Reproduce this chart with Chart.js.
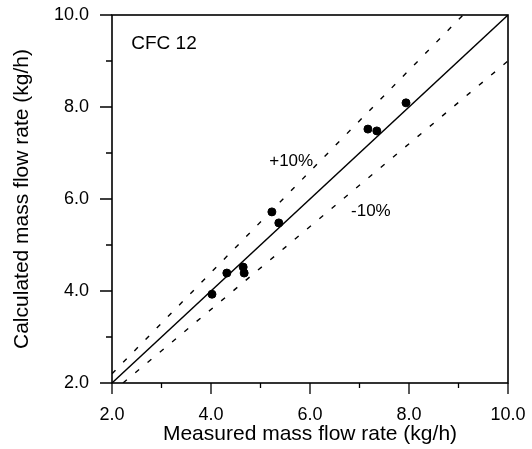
<!DOCTYPE html>
<html>
<head>
<meta charset="utf-8">
<script src="https://cdn.jsdelivr.net/npm/chart.js@4"></script>
<style>
  html, body { margin: 0; padding: 0; background: #fff; }
  #wrap { width: 532px; height: 449px; }
</style>
</head>
<body>
<div id="wrap"><canvas id="chart" width="532" height="449"></canvas></div>
<script>
// measured vs calculated mass flow rate (kg/h)
const measured   = [4.02, 4.32, 4.65, 4.67, 5.23, 5.37, 7.17, 7.35, 7.94];
const calculated = [3.93, 4.39, 4.52, 4.39, 5.72, 5.48, 7.52, 7.48, 8.09];

const lineX   = [2, 10];
const plusX   = [2, 10 / 1.1];
const minusX  = [2 / 0.9, 10];

const majorTicks = [2, 4, 6, 8, 10];
const minorTicks = [3, 5, 7, 9];

const textLabels = [
    { text: "CFC 12", x: 3.05, y: 9.37, size: 19 },
    { text: "+10%", x: 5.62, y: 6.83, size: 17 },
    { text: "-10%", x: 7.23, y: 5.74, size: 17 }
];

const FONT = "'Liberation Sans', Arial, sans-serif";

let points = measured.map((m, i) => ({ x: m, y: calculated[i] }));

const framePlugin = {
    id: "frame",
    afterDatasetsDraw(chart) {
        let ctx = chart.ctx;
        let xs = chart.scales.x, ys = chart.scales.y;
        let a = chart.chartArea;
        ctx.save();
        ctx.strokeStyle = "#000";
        ctx.lineWidth = 1.6;
        ctx.strokeRect(a.left, a.top, a.right - a.left, a.bottom - a.top);

        // tick marks, major longer than minor
        ctx.lineWidth = 1.3;
        ctx.beginPath();
        majorTicks.forEach(v => {
            let px = xs.getPixelForValue(v);
            ctx.moveTo(px, a.bottom); ctx.lineTo(px, a.bottom + 11);
            let py = ys.getPixelForValue(v);
            ctx.moveTo(a.left, py); ctx.lineTo(a.left - 12, py);
        });
        minorTicks.forEach(v => {
            let px = xs.getPixelForValue(v);
            ctx.moveTo(px, a.bottom); ctx.lineTo(px, a.bottom + 5);
            let py = ys.getPixelForValue(v);
            ctx.moveTo(a.left, py); ctx.lineTo(a.left - 6, py);
        });
        ctx.stroke();

        ctx.fillStyle = "#000";
        ctx.textAlign = "center";
        ctx.textBaseline = "middle";
        textLabels.forEach(l => {
            ctx.font = l.size + "px " + FONT;
            ctx.fillText(l.text, xs.getPixelForValue(l.x), ys.getPixelForValue(l.y));
        });
        ctx.restore();
    }
};

new Chart(document.getElementById("chart"), {
    type: "scatter",
    data: {
        datasets: [
            {
                data: points,
                backgroundColor: "#000",
                borderColor: "#000",
                pointRadius: 4
            },
            {
                type: "line",
                data: lineX.map(v => ({ x: v, y: v })),
                borderColor: "#000",
                borderWidth: 1.4,
                pointRadius: 0
            },
            {
                type: "line",
                data: plusX.map(v => ({ x: v, y: v * 1.1 })),
                borderColor: "#000",
                borderWidth: 1.4,
                borderDash: [5, 11],
                pointRadius: 0
            },
            {
                type: "line",
                data: minusX.map(v => ({ x: v, y: v * 0.9 })),
                borderColor: "#000",
                borderWidth: 1.4,
                borderDash: [5, 11],
                pointRadius: 0
            }
        ]
    },
    options: {
        responsive: false,
        animation: false,
        layout: { padding: { top: 15, right: 24, left: 0, bottom: 0 } },
        plugins: { legend: { display: false }, tooltip: { enabled: false } },
        scales: {
            x: {
                type: "linear",
                min: 2, max: 10,
                afterFit: s => { s.height = 66; s.paddingLeft = 0; s.paddingRight = 0; },
                grid: { display: true, drawOnChartArea: false, color: "rgba(0,0,0,0)", tickLength: 10 },
                border: { display: false },
                ticks: {
                    stepSize: 1,
                    padding: 11,
                    color: "#000",
                    maxRotation: 0,
                    font: { family: FONT, size: 18 },
                    callback: v => (v % 2 === 0 ? v.toFixed(1) : "")
                },
                title: {
                    display: true,
                    text: "Measured mass flow rate (kg/h)",
                    color: "#000",
                    font: { family: FONT, size: 21 },
                    padding: { top: 0, bottom: 2 }
                }
            },
            y: {
                type: "linear",
                min: 2, max: 10,
                afterFit: s => { s.width = 112; s.paddingTop = 0; s.paddingBottom = 0; },
                grid: { display: true, drawOnChartArea: false, color: "rgba(0,0,0,0)", tickLength: 12 },
                border: { display: false },
                ticks: {
                    stepSize: 1,
                    padding: 11,
                    color: "#000",
                    font: { family: FONT, size: 18 },
                    callback: v => (v % 2 === 0 ? v.toFixed(1) : "")
                },
                title: {
                    display: true,
                    text: "Calculated mass flow rate (kg/h)",
                    color: "#000",
                    font: { family: FONT, size: 21 },
                    padding: { top: 10, bottom: 0 }
                }
            }
        }
    },
    plugins: [framePlugin]
});
</script>
</body>
</html>
